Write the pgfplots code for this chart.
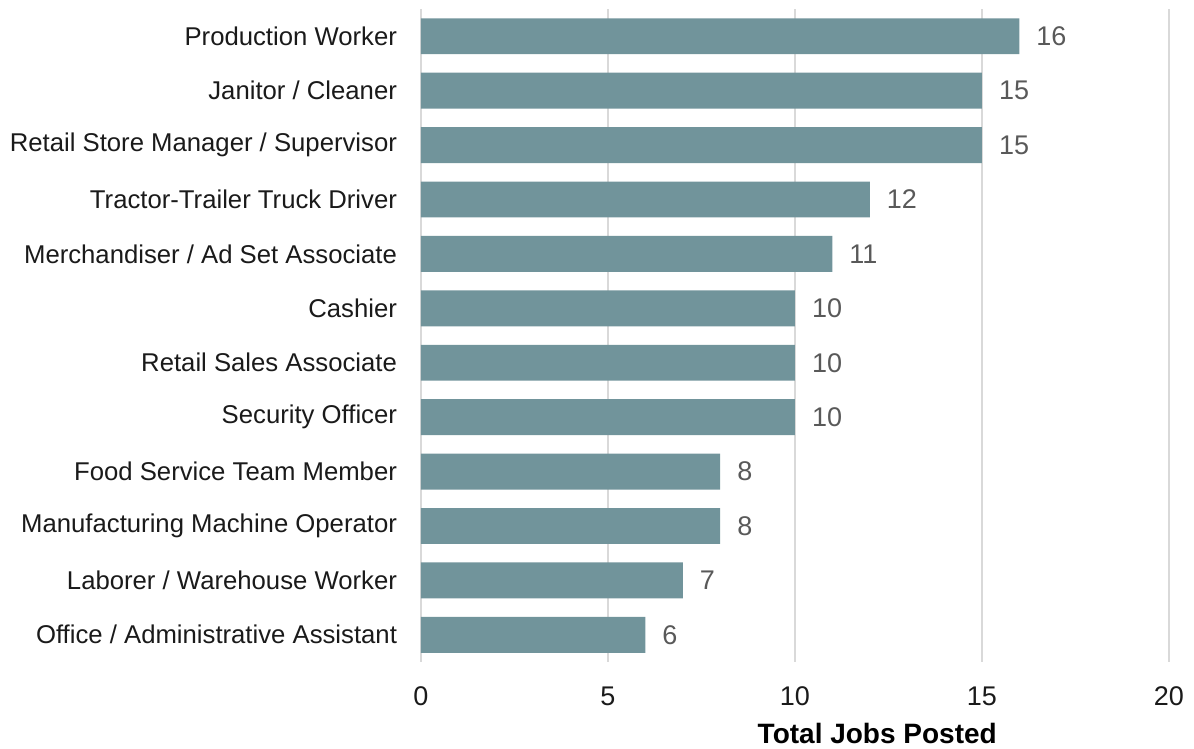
\documentclass[border=0pt]{standalone}
\usepackage{pgfplots}
\pgfplotsset{compat=1.18}
\usepackage{fontspec}
\setmainfont{Liberation Sans}
\definecolor{barc}{HTML}{71949B}
\definecolor{gridc}{HTML}{D9D9D9}
\definecolor{labc}{HTML}{1A1A1A}
\definecolor{numc}{HTML}{595959}
\begin{document}
\begin{tikzpicture}
\useasboundingbox (-210.5pt,-43.5pt) rectangle (386.5pt,331pt);
\begin{axis}[
  at={(0,0)}, anchor=south west,
  scale only axis,
  width=374pt, height=326.5pt,
  xbar, bar width=0.66,
  xmin=0, xmax=20, ymin=-0.5, ymax=11.5,
  y dir=reverse,
  xtick={0,5,10,15,20},
  ytick={0,...,11},
  yticklabels={Production Worker, Janitor / Cleaner, Retail Store Manager / Supervisor, Tractor-Trailer Truck Driver, Merchandiser / Ad Set Associate, Cashier, Retail Sales Associate, Security Officer, Food Service Team Member, Manufacturing Machine Operator, Laborer / Warehouse Worker, Office / Administrative Assistant},
  axis line style={draw=none},
  major tick length=0pt,
  xmajorgrids, grid style={gridc, line width=1pt},
  /pgf/number format/assume math mode=true,
  yticklabel style={font=\fontsize{12.85}{15}\selectfont, text=labc, xshift=-8.5pt},
  xticklabel style={font=\fontsize{13.5}{16}\selectfont, text=labc, yshift=-9pt},
  nodes near coords,
  nodes near coords style={font=\fontsize{13.5}{16}\selectfont, text=numc, xshift=5pt},
  every node near coord/.append style={/pgf/number format/assume math mode=true},
  clip=false,
]
\addplot[fill=barc, draw=none] coordinates {
(16,0) (15,1) (15,2) (12,3) (11,4) (10,5) (10,6) (10,7) (8,8) (8,9) (7,10) (6,11)};
\node[font=\bfseries\fontsize{14}{16}\selectfont, text=black] at (axis description cs:0.61,0) [yshift=-35.5pt] {Total Jobs Posted};
\end{axis}
\end{tikzpicture}
\end{document}
